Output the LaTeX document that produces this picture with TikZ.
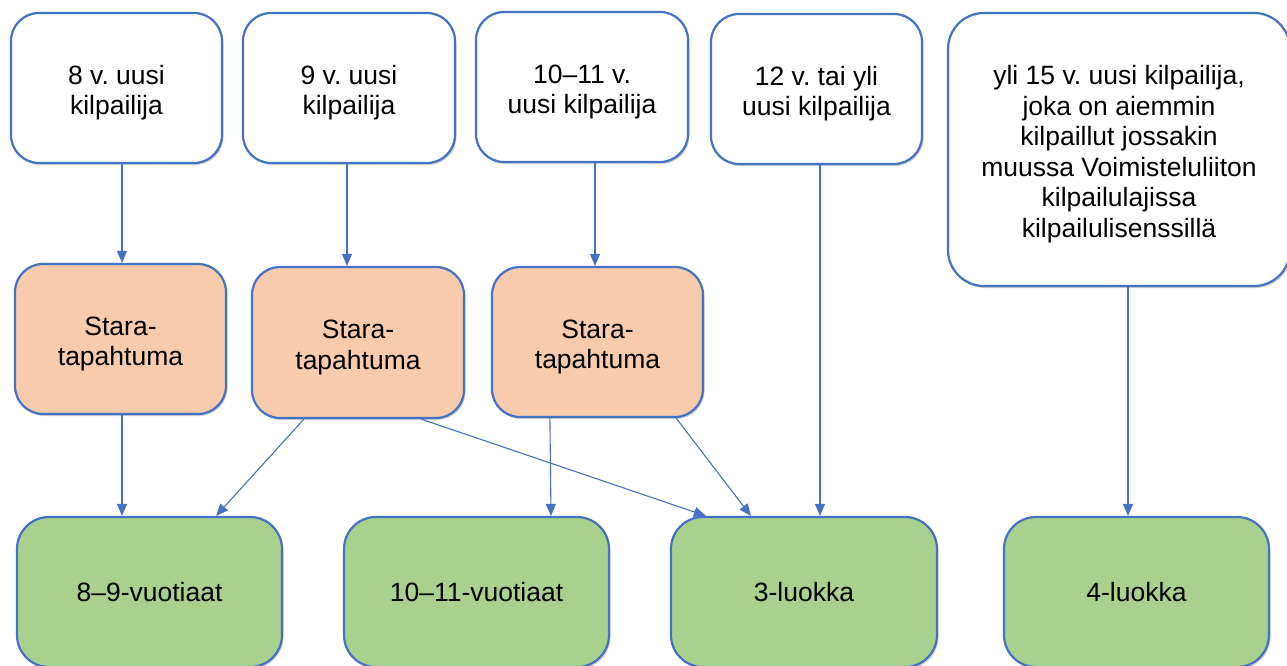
\documentclass[tikz,border=0pt]{standalone}
\usepackage{fontspec}
\setmainfont{Liberation Sans}
\usetikzlibrary{arrows.meta,shadows}
\definecolor{bord}{HTML}{4472C4}
\definecolor{orangefill}{HTML}{F8CBAD}
\definecolor{greenfill}{HTML}{A9D18E}
\newcommand\tstrut{\rule{0pt}{28.5pt}}
\tikzset{
  box/.style={draw=bord, line width=2.2pt, rounded corners=28pt, inner sep=0pt, align=center,
    font=\fontsize{26.5}{30.5}\selectfont\frenchspacing,
    drop shadow={shadow xshift=1.5pt, shadow yshift=-2pt, opacity=0.18, fill=black}},
  topbox/.style={box, fill=white},
  orbox/.style={box, fill=orangefill},
  grbox/.style={box, fill=greenfill, rounded corners=32pt},
  conn/.style={draw=bord, line width=1.1pt, -{Triangle[length=12pt,width=10pt]}}
}
\begin{document}
\begin{tikzpicture}[x=1pt,y=-1pt]
\useasboundingbox[fill=white] (0,0) rectangle (1287,666);
% top row
\node[topbox, minimum width=211pt, minimum height=150pt] (t1) at (116.5,88) {\tstrut 8 v. uusi\\kilpailija};
\node[topbox, minimum width=212pt, minimum height=150pt] (t2) at (349,88) {\tstrut 9 v. uusi\\kilpailija};
\node[topbox, minimum width=212pt, minimum height=150pt] (t3) at (582,87) {\tstrut 10–11 v.\\uusi kilpailija};
\node[topbox, minimum width=211pt, minimum height=150pt] (t4) at (816.5,89) {\tstrut 12 v. tai yli\\uusi kilpailija};
\node[topbox, minimum width=342pt, minimum height=273pt, rounded corners=36pt] (t5) at (1119,149.5) {\tstrut yli 15 v. uusi kilpailija,\\joka on aiemmin\\kilpaillut jossakin\\muussa Voimisteluliiton\\kilpailulajissa\\kilpailulisenssillä};
% middle row
\node[orbox, minimum width=211pt, minimum height=150pt] (o1) at (120.5,339) {\tstrut Stara-\\tapahtuma};
\node[orbox, minimum width=212pt, minimum height=151pt] (o2) at (358,342.5) {\tstrut Stara-\\tapahtuma};
\node[orbox, minimum width=211pt, minimum height=150pt] (o3) at (597.5,342) {\tstrut Stara-\\tapahtuma};
% bottom row
\node[grbox, minimum width=265pt, minimum height=150pt] (g1) at (149.5,592) {8–9-vuotiaat};
\node[grbox, minimum width=265pt, minimum height=150pt] (g2) at (476.5,592) {10–11-vuotiaat};
\node[grbox, minimum width=266pt, minimum height=150pt] (g3) at (804,592) {3-luokka};
\node[grbox, minimum width=265pt, minimum height=150pt] (g4) at (1136.5,592) {4-luokka};
% connectors
\draw[conn] ([xshift=5.5pt]t1.south) -- ([xshift=1.5pt]o1.north);
\draw[conn] ([xshift=-2pt]t2.south) -- ([xshift=-11pt]o2.north);
\draw[conn] ([xshift=13pt]t3.south) -- ([xshift=-2.5pt]o3.north);
\draw[conn] ([xshift=3.5pt]t4.south) -- ([xshift=16pt]g3.north);
\draw[conn] ([xshift=9pt]t5.south) -- ([xshift=-8.5pt]g4.north);
\draw[conn] ([xshift=1.5pt]o1.south) -- ([xshift=-27.5pt]g1.north);
\draw[conn] ([xshift=53pt]o2.south west) -- ([xshift=-67pt]g1.north east);
\draw[conn] ([xshift=-44pt]o2.south east) -- ([xshift=36pt]g3.north west);
\draw[conn] ([xshift=59pt]o3.south west) -- ([xshift=74.5pt]g2.north);
\draw[conn] ([xshift=-28pt]o3.south east) -- ([xshift=81pt]g3.north west);
\end{tikzpicture}
\end{document}
